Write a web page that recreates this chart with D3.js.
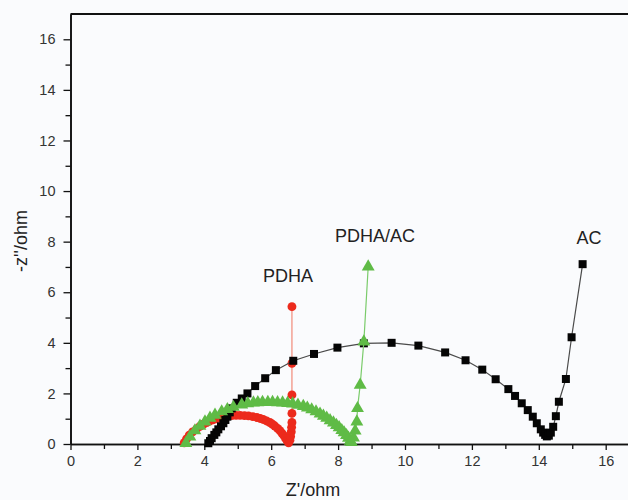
<!DOCTYPE html>
<html>
<head>
<meta charset="utf-8">
<script src="https://cdn.jsdelivr.net/npm/d3@7"></script>
<style>
  body { margin: 0; background: #fafbfd; }
  svg { display: block; font-family: "Liberation Sans", Arial, sans-serif; }
</style>
</head>
<body>
<div id="chart"></div>
<script>
// Nyquist data: [Z', -Z'']
const acData = [
    [4.12, 0.03], [4.17, 0.12], [4.22, 0.23], [4.30, 0.36], [4.36, 0.46], [4.42, 0.58],
    [4.50, 0.70], [4.57, 0.82], [4.63, 0.95], [4.69, 1.08], [4.76, 1.25], [4.82, 1.41],
    [4.97, 1.63], [5.12, 1.80], [5.29, 2.00], [5.52, 2.29], [5.82, 2.60], [6.14, 2.92],
    [6.66, 3.29], [7.28, 3.56], [7.98, 3.81], [8.77, 3.98], [9.60, 4.00], [10.40, 3.89],
    [11.20, 3.62], [11.81, 3.31], [12.31, 2.94], [12.71, 2.56], [13.09, 2.17], [13.29, 1.90],
    [13.49, 1.61], [13.67, 1.34], [13.82, 1.08], [13.94, 0.82], [14.06, 0.58], [14.13, 0.45],
    [14.19, 0.36], [14.24, 0.30], [14.30, 0.33], [14.36, 0.45], [14.43, 0.68], [14.51, 1.10],
    [14.60, 1.67], [14.81, 2.57], [14.98, 4.22], [15.31, 7.11]
];

const pdhaData = [
    [3.40, 0.05], [3.47, 0.20], [3.55, 0.35], [3.65, 0.48], [3.77, 0.60], [3.87, 0.70],
    [3.97, 0.78], [4.07, 0.85], [4.17, 0.91], [4.27, 0.96], [4.37, 1.00], [4.47, 1.04],
    [4.57, 1.07], [4.70, 1.10], [4.82, 1.12], [4.95, 1.13], [5.07, 1.13], [5.20, 1.12],
    [5.32, 1.11], [5.45, 1.08], [5.57, 1.05], [5.67, 1.01], [5.76, 0.97], [5.86, 0.91],
    [5.96, 0.85], [6.04, 0.78], [6.11, 0.71], [6.19, 0.62], [6.26, 0.53], [6.32, 0.43],
    [6.38, 0.33], [6.43, 0.22], [6.48, 0.12], [6.52, 0.05], [6.56, 0.15], [6.58, 0.30],
    [6.60, 0.48], [6.61, 0.66], [6.62, 0.85], [6.62, 1.21], [6.62, 1.94], [6.62, 3.19],
    [6.62, 5.43]
];

const pdhaAcData = [
    [3.45, 0.03], [3.57, 0.29], [3.72, 0.53], [3.87, 0.71], [4.02, 0.88], [4.17, 1.03],
    [4.32, 1.15], [4.52, 1.28], [4.69, 1.37], [4.87, 1.46], [5.12, 1.55], [5.30, 1.60],
    [5.47, 1.63], [5.60, 1.64], [5.74, 1.65], [5.90, 1.65], [6.04, 1.65], [6.19, 1.64],
    [6.34, 1.63], [6.49, 1.61], [6.64, 1.59], [6.80, 1.54], [6.96, 1.49], [7.08, 1.43],
    [7.21, 1.36], [7.34, 1.28], [7.46, 1.19], [7.56, 1.11], [7.66, 1.03], [7.76, 0.93],
    [7.86, 0.84], [7.95, 0.74], [8.03, 0.65], [8.11, 0.54], [8.18, 0.45], [8.25, 0.34],
    [8.31, 0.24], [8.36, 0.12], [8.40, 0.07], [8.46, 0.25], [8.51, 0.52], [8.56, 0.88],
    [8.58, 1.41], [8.66, 2.33], [8.77, 4.04], [8.90, 7.01]
];

const xMajor = [0, 2, 4, 6, 8, 10, 12, 14, 16];
const xMinor = [1, 3, 5, 7, 9, 11, 13, 15];
const yMajor = [0, 2, 4, 6, 8, 10, 12, 14, 16];
const yMinor = [1, 3, 5, 7, 9, 11, 13, 15];

const seriesNames = ['AC', 'PDHA', 'PDHA/AC'];
const labelSpots = [[15.5, 7.9], [6.5, 6.4], [9.1, 8.0]]; // text anchors in data units

const width = 628, height = 500;
const x = d3.scaleLinear().domain([0, 17]).range([70.5, 70.5 + 17 * 33.45]);
const y = d3.scaleLinear().domain([0, 17]).range([444, 14]);

const svg = d3.select('#chart').append('svg')
    .attr('width', width)
    .attr('height', height);

svg.append('rect')
    .attr('width', width)
    .attr('height', height)
    .attr('fill', '#fafbfd');

// top frame line
svg.append('line')
    .attr('x1', x(0)).attr('x2', width)
    .attr('y1', y(17)).attr('y2', y(17))
    .attr('stroke', '#111').attr('stroke-width', 2);

// axes
svg.append('g')
    .attr('transform', `translate(0,${y(0)})`)
    .call(d3.axisBottom(x).tickValues(xMajor).tickSize(6).tickSizeOuter(0).tickPadding(6));
svg.append('g')
    .attr('transform', `translate(0,${y(0)})`)
    .call(d3.axisBottom(x).tickValues(xMinor).tickSize(5).tickSizeOuter(0).tickFormat(''));

svg.append('g')
    .attr('transform', `translate(${x(0)},0)`)
    .call(d3.axisLeft(y).tickValues(yMajor).tickSize(7).tickSizeOuter(0).tickPadding(8));
svg.append('g')
    .attr('transform', `translate(${x(0)},0)`)
    .call(d3.axisLeft(y).tickValues(yMinor).tickSize(5).tickSizeOuter(0).tickFormat(''));

svg.selectAll('.domain').attr('stroke', '#111').attr('stroke-width', 1.6);
svg.selectAll('.tick line').attr('stroke', '#111').attr('stroke-width', 1.3);
svg.selectAll('.tick text')
    .attr('fill', '#333')
    .style('font-size', '14.5px')
    .style('font-family', '"Liberation Sans", Arial, sans-serif');

// axis titles
svg.append('text')
    .attr('x', 313).attr('y', 496)
    .attr('text-anchor', 'middle')
    .attr('fill', '#222')
    .style('font-size', '18px')
    .text("Z'/ohm");

svg.append('text')
    .attr('transform', 'translate(27,241) rotate(-90)')
    .attr('text-anchor', 'middle')
    .attr('fill', '#222')
    .style('font-size', '18px')
    .text("-z''/ohm");

const line = d3.line().x(d => x(d[0])).y(d => y(d[1]));

function drawSeries(data, lineColor, fill, symbolType, size) {
    svg.append('path')
        .datum(data)
        .attr('d', line)
        .attr('fill', 'none')
        .attr('stroke', lineColor)
        .attr('stroke-width', 1.2);

    svg.append('g').selectAll('path')
        .data(data)
        .join('path')
        .attr('transform', d => `translate(${x(d[0])},${y(d[1])})`)
        .attr('d', d3.symbol(symbolType, size))
        .attr('fill', fill);
}

drawSeries(pdhaData, '#f28a7a', '#ec2a1c', d3.symbolCircle, 62);
drawSeries(acData, '#4a4a4a', '#050505', d3.symbolSquare, 64);
drawSeries(pdhaAcData, '#7acb6a', '#5fbb46', d3.symbolTriangle, 72);

// series labels
svg.append('g').selectAll('text')
    .data(seriesNames)
    .join('text')
    .attr('x', (d, i) => x(labelSpots[i][0]))
    .attr('y', (d, i) => y(labelSpots[i][1]))
    .attr('text-anchor', 'middle')
    .attr('fill', '#222')
    .style('font-size', '18px')
    .text(d => d);
</script>
</body>
</html>
